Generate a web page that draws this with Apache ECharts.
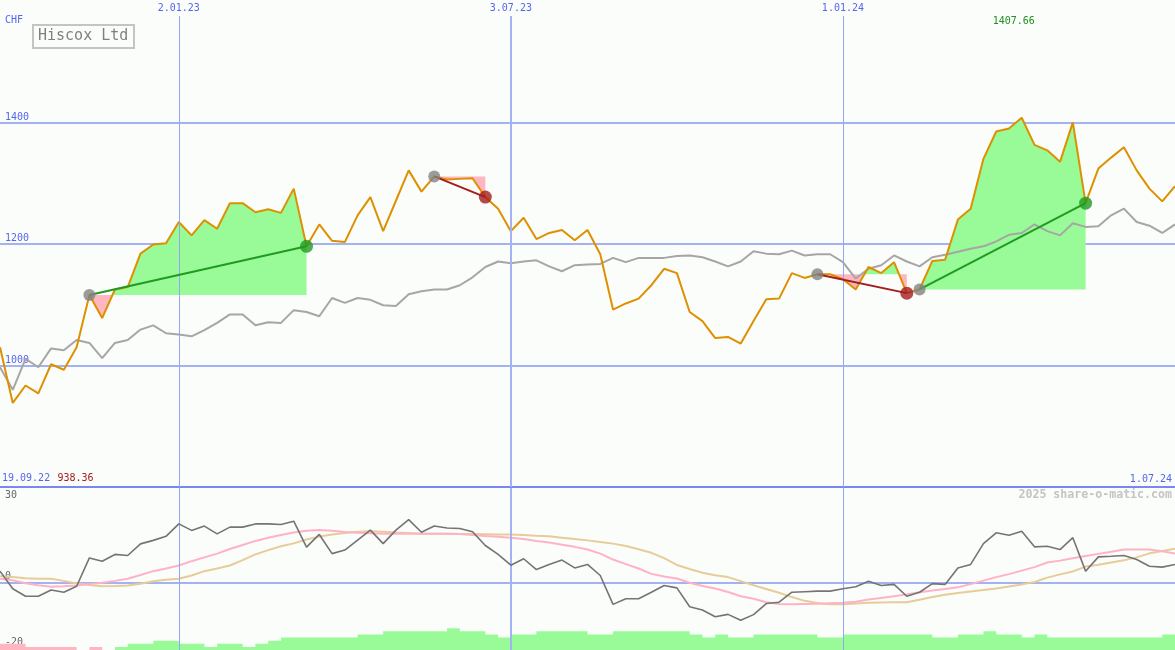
<!DOCTYPE html>
<html>
<head>
<meta charset="utf-8">
<script src="https://cdn.jsdelivr.net/npm/echarts@6/dist/echarts.min.js"></script>
<style>
html,body{margin:0;padding:0;background:#fbfdfb;}
#c{width:1175px;height:650px;}
</style>
</head>
<body>
<div id="c"></div>
<script>
// ---------- DATA ----------
const title = 'Hiscox Ltd';
const currency = 'CHF';
const startLabel = '19.09.22';
const endLabel = '1.07.24';
const dateTickIndex = [14, 40, 66];
const dateTickLabels = ['2.01.23', '3.07.23', '1.01.24'];
const priceTicks = [1000, 1200, 1400];
const oscTicks = [30, 0, -20];
const watermark = '2025 share-o-matic.com';

const price = [
  1030, 938.36, 967, 954, 1002, 993, 1030, 1116, 1078, 1125,
  1129, 1184, 1199, 1201, 1236, 1214, 1239, 1225, 1267, 1267,
  1252, 1257, 1251, 1291, 1196, 1232, 1205, 1203, 1247, 1277,
  1221, 1271, 1321, 1286, 1311, 1306, 1307, 1308, 1277, 1258,
  1221, 1243, 1208, 1218, 1223, 1206, 1223, 1183, 1092, 1102,
  1110, 1132, 1159, 1152, 1088, 1073, 1045, 1047, 1036, 1073,
  1109, 1110, 1152, 1144, 1150, 1150, 1142, 1125, 1162, 1152,
  1170, 1119, 1125, 1172, 1174, 1240, 1258, 1340, 1385, 1390,
  1407.66, 1363, 1354, 1335, 1400, 1267, 1324, 1342, 1359, 1321,
  1291, 1270, 1295
];
const benchmark = [
  997, 960, 1011, 997, 1028, 1025, 1042, 1037, 1012, 1037,
  1042, 1059, 1066, 1053, 1051, 1048, 1058, 1070, 1084, 1084,
  1066, 1071, 1070, 1091, 1088, 1081, 1111, 1103, 1111, 1108,
  1099, 1098, 1117, 1122, 1125, 1125, 1132, 1145, 1162, 1171,
  1168, 1171, 1173, 1163, 1155, 1165, 1166, 1167, 1177, 1170,
  1177, 1177, 1177, 1180, 1181, 1178, 1171, 1163, 1171, 1188,
  1184, 1183, 1189, 1181, 1183, 1183, 1170, 1143, 1159, 1165,
  1181, 1171, 1163, 1178, 1182, 1187, 1192, 1196, 1204, 1215,
  1218, 1232, 1221, 1214, 1234, 1228, 1229, 1247, 1258, 1236,
  1230, 1218, 1232
];
const momentum = [
  4.2, -2.3, -5.1, -5.1, -2.8, -3.6, -1.4, 9.1, 7.9, 10.4,
  10.0, 14.3, 15.6, 17.1, 21.7, 19.3, 20.9, 18.0, 20.5, 20.5,
  21.7, 21.7, 21.5, 22.7, 13.1, 17.8, 10.7, 12.0, 15.7, 19.4,
  14.4, 19.4, 23.3, 18.6, 20.9, 20.2, 20.0, 18.8, 13.7, 10.4,
  6.4, 8.8, 4.8, 6.7, 8.3, 5.4, 6.7, 2.6, -8.1, -6.0,
  -6.0, -3.6, -1.1, -2.0, -9.0, -10.2, -12.7, -11.8, -14.0, -11.9,
  -7.8, -7.3, -3.6, -3.4, -3.2, -3.2, -2.3, -1.6, 0.5, -1.1,
  -0.7, -5.1, -3.6, -0.4, -0.7, 5.4, 6.7, 14.4, 18.4, 17.5,
  19.0, 13.2, 13.4, 12.2, 16.6, 4.2, 9.5, 9.7, 10.0, 8.5,
  6.0, 5.7, 6.7
];
const signalFast = [
  1.4, 0.8, -0.3, -1.0, -1.6, -1.4, -1.1, -0.6, -0.1, 0.6,
  1.4, 2.8, 4.2, 5.2, 6.3, 7.9, 9.3, 10.7, 12.4, 13.9,
  15.4, 16.6, 17.6, 18.5, 19.2, 19.4, 19.2, 18.7, 18.4, 18.2,
  18.1, 18.1, 18.1, 18.1, 18.1, 18.1, 18.0, 17.6, 17.2, 16.9,
  16.6, 16.1, 15.4, 14.8, 14.0, 13.2, 12.2, 10.7, 8.5, 6.8,
  5.2, 3.2, 2.2, 1.5, -0.1, -1.3, -2.2, -3.5, -5.1, -6.0,
  -7.3, -8.0, -8.1, -8.0, -7.9, -7.7, -7.5, -7.1, -6.3, -5.7,
  -5.1, -4.4, -3.6, -3.0, -2.4, -1.8, -0.6, 0.7, 2.0, 3.1,
  4.4, 5.7, 7.4, 8.1, 9.0, 9.8, 10.6, 11.4, 12.2, 12.2,
  12.2, 11.6, 10.7
];
const signalSlow = [
  2.3, 2.0, 1.6, 1.4, 1.4, 0.6, -0.4, -0.9, -1.4, -1.3,
  -1.1, -0.5, 0.5, 1.0, 1.4, 2.6, 4.2, 5.2, 6.3, 8.3,
  10.4, 12.0, 13.4, 14.5, 15.9, 17.0, 17.8, 18.3, 18.8, 19.0,
  18.8, 18.5, 18.3, 18.1, 18.1, 18.1, 18.0, 18.0, 17.9, 17.8,
  17.8, 17.6, 17.3, 17.1, 16.6, 16.1, 15.6, 15.0, 14.4, 13.5,
  12.3, 11.0, 9.0, 6.5, 5.0, 3.6, 2.7, 2.0, 0.5, -1.0,
  -2.4, -3.8, -5.4, -6.8, -7.6, -8.1, -8.1, -7.8, -7.5, -7.4,
  -7.3, -7.3, -6.4, -5.4, -4.5, -3.9, -3.3, -2.8, -2.2, -1.5,
  -0.7, 0.2, 1.8, 3.0, 4.1, 5.9, 6.6, 7.4, 8.2, 9.3,
  10.8, 11.7, 12.5
];
const barsDown = [
  2, 2, 1, 1, 1, 1, 0, 1, 0, 0,
  0, 0, 0, 0, 0, 0, 0, 0, 0, 0,
  0, 0, 0, 0, 0, 0, 0, 0, 0, 0,
  0, 0, 0, 0, 0, 0, 0, 0, 0, 0,
  0, 0, 0, 0, 0, 0, 0, 0, 0, 0,
  0, 0, 0, 0, 0, 0, 0, 0, 0, 0,
  0, 0, 0, 0, 0, 0, 0, 0, 0, 0,
  0, 0, 0, 0, 0, 0, 0, 0, 0, 0,
  0, 0, 0, 0, 0, 0, 0, 0, 0, 0,
  0, 0, 0
];
const barsUp = [
  0, 0, 0, 0, 0, 0, 0, 0, 0, 1,
  2, 2, 3, 3, 2, 2, 1, 2, 2, 1,
  2, 3, 4, 4, 4, 4, 4, 4, 5, 5,
  6, 6, 6, 6, 6, 7, 6, 6, 5, 4,
  5, 5, 6, 6, 6, 6, 5, 5, 6, 6,
  6, 6, 6, 6, 5, 4, 5, 4, 4, 5,
  5, 5, 5, 5, 4, 4, 5, 5, 5, 5,
  5, 5, 5, 4, 4, 5, 5, 6, 5, 5,
  4, 5, 4, 4, 4, 4, 4, 4, 4, 4,
  4, 5, 5
];
// trades: entry index, exit index, kind
const trades = [
  {entry: 7, exit: 24, kind: 'up'},
  {entry: 34, exit: 38, kind: 'down'},
  {entry: 64, exit: 71, kind: 'down'},
  {entry: 72, exit: 85, kind: 'up'}
];

// ---------- STYLE ----------
const MONO = '"DejaVu Sans Mono", "Liberation Mono", monospace';
const BLUE_TXT = '#5566ee';
const GRID_BLUE = '#a3b2f2';
const VLINE_BLUE = '#94a6f0';
const AXIS_BLUE = '#7888f0';
const GREEN_FILL = '#98fb98';
const PINK_FILL = '#ffb6c1';
const N = price.length;
const lastIdx = N - 1;

// ---------- derived ----------
function band(e, x, above) {
  const base = price[e];
  const f = v => above ? Math.max(v, base) : Math.min(v, base);
  const pts = [[e, base]];
  for (let i = e; i <= x; i++) {
    pts.push([i, f(price[i])]);
    if (i < x) {
      const a = price[i] - base, b = price[i + 1] - base;
      if (a * b < 0) { const t = a / (a - b); pts.push([i + t, base]); }
    }
  }
  pts.push([x, base]);
  return pts;
}
const polys = [];
trades.forEach(t => {
  polys.push({pts: band(t.entry, t.exit, true), color: GREEN_FILL});
  polys.push({pts: band(t.entry, t.exit, false), color: PINK_FILL});
});
let maxIdx = 0, minIdx = 0;
price.forEach((v, i) => { if (v > price[maxIdx]) maxIdx = i; if (v < price[minIdx]) minIdx = i; });

const idx = a => a.map((v, i) => [i, v]);
const tickMap = {};
dateTickIndex.forEach((v, k) => tickMap[v] = dateTickLabels[k]);

const vLineData = dateTickIndex.map((v, k) => ({
  xAxis: v, lineStyle: {color: k === 1 ? GRID_BLUE : VLINE_BLUE, type: 'solid', width: k === 1 ? 2 : 1}
}));

const series = [
  { // vertical date lines (main)
    type: 'line', xAxisIndex: 0, yAxisIndex: 0, data: [], z: 1, silent: true,
    markLine: {silent: true, symbol: 'none', label: {show: false},
      lineStyle: {color: GRID_BLUE, type: 'solid'}, data: vLineData, animation: false}
  },
  {
    type: 'custom', xAxisIndex: 0, yAxisIndex: 0, z: 2, silent: true,
    data: polys.map((p, k) => [p.pts[0][0], p.pts[0][1], k]),
    encode: {x: 0, y: 1},
    renderItem: (params, api) => {
      const p = polys[params.dataIndex];
      return {type: 'polygon', shape: {points: p.pts.map(q => api.coord(q))},
        style: {fill: p.color, stroke: null}};
    }
  },
  {
    type: 'line', xAxisIndex: 0, yAxisIndex: 0, z: 3, data: idx(benchmark),
    showSymbol: false, lineStyle: {color: '#a6a6a6', width: 2}, silent: true
  },
  {
    type: 'line', xAxisIndex: 0, yAxisIndex: 0, z: 4, data: idx(price),
    showSymbol: false, lineStyle: {color: '#dd9000', width: 2}, silent: true
  }
];
trades.forEach(t => {
  const col = t.kind === 'up' ? '#209a20' : '#a31e1e';
  series.push({
    type: 'line', xAxisIndex: 0, yAxisIndex: 0, z: 5, silent: true,
    data: [[t.entry, price[t.entry]], [t.exit, price[t.exit]]],
    showSymbol: false, lineStyle: {color: col, width: 2}
  });
  series.push({
    type: 'scatter', xAxisIndex: 0, yAxisIndex: 0, z: 6, silent: true,
    data: [[t.entry, price[t.entry]]], symbolSize: 12,
    itemStyle: {color: '#828282'}
  });
  series.push({
    type: 'scatter', xAxisIndex: 0, yAxisIndex: 0, z: 6, silent: true,
    data: [[t.exit, price[t.exit]]], symbolSize: 13,
    itemStyle: {color: col}
  });
});
// lower panel
series.push(
  {
    type: 'line', xAxisIndex: 2, yAxisIndex: 1, data: [], z: 1, silent: true,
    markLine: {silent: true, symbol: 'none', label: {show: false},
      lineStyle: {color: GRID_BLUE, type: 'solid'}, data: vLineData, animation: false}
  },
  {
    type: 'line', xAxisIndex: 2, yAxisIndex: 2, z: 2, data: idx(barsDown), step: 'end',
    showSymbol: false, lineStyle: {width: 0}, areaStyle: {color: PINK_FILL, opacity: 1}, silent: true
  },
  {
    type: 'line', xAxisIndex: 2, yAxisIndex: 2, z: 2, data: idx(barsUp), step: 'end',
    showSymbol: false, lineStyle: {width: 0}, areaStyle: {color: GREEN_FILL, opacity: 1}, silent: true
  },
  {
    type: 'line', xAxisIndex: 2, yAxisIndex: 1, z: 3, data: idx(signalSlow),
    showSymbol: false, lineStyle: {color: '#e6cc98', width: 2}, silent: true
  },
  {
    type: 'line', xAxisIndex: 2, yAxisIndex: 1, z: 4, data: idx(signalFast),
    showSymbol: false, lineStyle: {color: '#ffb2c6', width: 2}, silent: true
  },
  {
    type: 'line', xAxisIndex: 2, yAxisIndex: 1, z: 5, data: idx(momentum),
    showSymbol: false, lineStyle: {color: '#747474', width: 1.6}, silent: true
  }
);

const option = {
  animation: false,
  backgroundColor: '#fbfdfb',
  textStyle: {fontFamily: MONO},
  title: {
    text: title, left: 33, top: 25,
    padding: [4, 6, 4, 5],
    borderColor: '#c4c4c4', borderWidth: 2,
    textStyle: {fontFamily: MONO, fontSize: 15, fontWeight: 'normal', color: '#808080'}
  },
  grid: [
    {left: 0, right: 0, top: 16, height: 471, containLabel: false, outerBoundsMode: 'none'},
    {left: 0, right: 0, top: 488, height: 162, containLabel: false, outerBoundsMode: 'none'}
  ],
  xAxis: [
    {
      type: 'value', gridIndex: 0, min: 0, max: lastIdx, position: 'bottom',
      axisLine: {show: true, onZero: false, lineStyle: {color: AXIS_BLUE, width: 2}},
      axisTick: {show: false}, splitLine: {show: false},
      axisLabel: {
        show: true, inside: true, margin: 3, customValues: [0, lastIdx],
        alignMinLabel: 'left', alignMaxLabel: 'right',
        formatter: v => v === 0
          ? '{d|' + startLabel + '} {m|' + price[minIdx].toFixed(2) + '}'
          : '{e|' + endLabel + '}',
        rich: {
          d: {color: BLUE_TXT, fontFamily: MONO, fontSize: 10, padding: [0, 0, 0, 2]},
          e: {color: BLUE_TXT, fontFamily: MONO, fontSize: 10, padding: [0, 3, 0, 0]},
          m: {color: '#a31c1c', fontFamily: MONO, fontSize: 10}
        }
      }
    },
    {
      type: 'value', gridIndex: 0, min: 0, max: lastIdx, position: 'top',
      axisLine: {show: false}, axisTick: {show: false}, splitLine: {show: false},
      axisLabel: {
        show: true, margin: 3, customValues: dateTickIndex,
        formatter: v => tickMap[v] || '',
        color: BLUE_TXT, fontFamily: MONO, fontSize: 10
      }
    },
    {
      type: 'value', gridIndex: 1, min: 0, max: lastIdx,
      axisLine: {show: true, onZero: true, lineStyle: {color: GRID_BLUE, width: 2}},
      axisTick: {show: false}, splitLine: {show: false}, axisLabel: {show: false}
    }
  ],
  yAxis: [
    {
      type: 'value', gridIndex: 0, min: 800, max: 1575, interval: 200,
      axisLine: {show: false}, axisTick: {show: false},
      splitLine: {show: true, showMinLine: false, showMaxLine: false,
        lineStyle: {color: GRID_BLUE, width: 2}},
      axisLabel: {
        inside: true, margin: 5, verticalAlign: 'bottom', customValues: priceTicks,
        formatter: v => String(v),
        color: BLUE_TXT, fontFamily: MONO, fontSize: 10
      }
    },
    {
      type: 'value', gridIndex: 1, min: -25, max: 35, interval: 5,
      axisLine: {show: false}, axisTick: {show: false}, splitLine: {show: false},
      axisLabel: {
        inside: true, margin: 5, verticalAlign: 'middle', customValues: oscTicks,
        formatter: v => v < 0 ? '{lo|' + v + '}' : '{hi|' + v + '}',
        rich: {
          hi: {color: '#666666', fontFamily: MONO, fontSize: 10, padding: [0, 0, 12, 0]},
          lo: {color: '#666666', fontFamily: MONO, fontSize: 10, padding: [12, 0, 0, 0]}
        }
      }
    },
    {
      type: 'value', gridIndex: 1, min: 0, max: 52, show: false,
      splitLine: {show: false}
    }
  ],
  series: series
};

const chart = echarts.init(document.getElementById('c'), null, {renderer: 'canvas'});
chart.setOption(option);

const maxX = chart.convertToPixel({xAxisIndex: 0}, maxIdx);
chart.setOption({
  graphic: [
    {type: 'text', left: 5, top: 15, z: 100,
      style: {text: currency, fill: BLUE_TXT, font: '10px ' + MONO}},
    {type: 'text', x: maxX - 8, y: 21, z: 100,
      style: {text: price[maxIdx].toFixed(2), fill: '#1f8f1f', font: '10px ' + MONO,
        align: 'center', verticalAlign: 'middle'}},
    {type: 'text', right: 3, top: 489, z: 100,
      style: {text: watermark, fill: '#c4c4c4', font: 'bold 11.6px ' + MONO}}
  ]
});
</script>
</body>
</html>
